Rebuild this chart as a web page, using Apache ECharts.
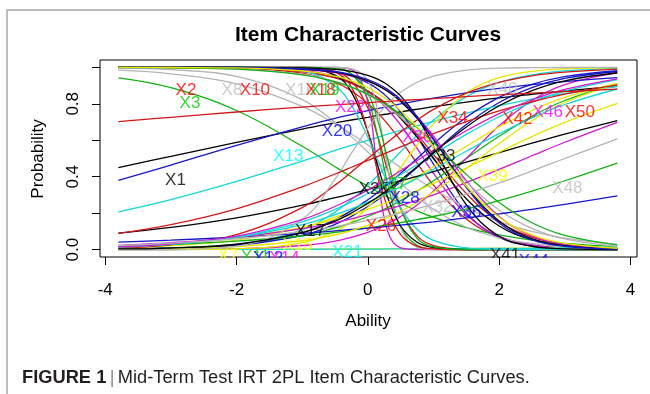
<!DOCTYPE html>
<html>
<head>
<meta charset="utf-8">
<script src="https://cdn.jsdelivr.net/npm/echarts@6/dist/echarts.min.js"></script>
<style>
  html, body { margin: 0; padding: 0; background: #fff; }
  #chart { width: 650px; height: 394px; }
</style>
</head>
<body>
<div id="chart"></div>
<script>
// ability grid (theta) shared by every curve
const theta = [-3.8, -3, -2, -1, -0.5, -0.25, 0, 0.15, 0.3, 0.5, 0.75, 1, 1.5, 2, 2.5, 3, 3.8];

// probability of a correct answer
const X1  = [.450,.512,.588,.661,.695,.711,.726,.736,.744,.756,.770,.784,.809,.832,.852,.871,.896];
const X2  = [1,.999,.995,.968,.917,.870,.802,.750,.690,.599,.475,.354,.168,.069,.027,.010,.002];
const X3  = [.942,.888,.763,.567,.455,.400,.348,.318,.289,.254,.213,.178,.121,.081,.053,.035,.017];
const X4  = [1,1,.999,.992,.974,.953,.915,.881,.835,.755,.622,.469,.202,.068,.020,.006,.001];
const X5  = [.002,.006,.027,.109,.206,.274,.354,.407,.463,.537,.628,.711,.839,.917,.959,.980,.994];
const X6  = [1,1,.998,.983,.951,.918,.866,.823,.770,.684,.555,.418,.193,.074,.026,.009,.002];
const X7  = [.002,.002,.003,.003,.004,.004,.004,.005,.005,.005,.006,.006,.007,.008,.009,.010,.012];
const X8  = [.984,.964,.909,.786,.690,.634,.574,.537,.500,.450,.389,.332,.231,.154,.100,.063,.029];
const X9  = [1,1,.997,.978,.945,.915,.870,.834,.791,.721,.617,.500,.279,.130,.055,.022,.005];
const X10 = [1,1,1,.998,.977,.924,.777,.622,.438,.223,.076,.023,.002,0,0,0,0];
const X11 = [.005,.011,.029,.076,.119,.148,.182,.206,.231,.269,.321,.378,.500,.622,.731,.818,.909];
const X12 = [.002,.006,.022,.078,.139,.183,.237,.274,.314,.373,.451,.532,.686,.807,.889,.939,.977];
const X13 = [.207,.274,.374,.486,.544,.572,.600,.616,.633,.654,.679,.704,.749,.790,.826,.856,.896];
const X14 = [0,.001,.005,.023,.047,.068,.095,.117,.142,.182,.245,.321,.500,.679,.818,.905,.969];
const X15 = [.011,.022,.053,.121,.178,.213,.254,.280,.308,.348,.400,.455,.567,.673,.763,.835,.912];
const X16 = [.996,.987,.950,.823,.698,.620,.535,.483,.430,.364,.287,.221,.123,.065,.034,.017,.006];
const X17 = [.091,.122,.175,.244,.285,.307,.330,.344,.358,.378,.402,.428,.480,.532,.584,.634,.708];
const X18 = [1,.999,.996,.976,.942,.912,.869,.835,.794,.729,.632,.522,.308,.153,.069,.029,.007];
const X19 = [1,1,1,1,.994,.964,.823,.620,.364,.123,.024,.004,0,0,0,0,0];
const X20 = [.380,.464,.572,.674,.720,.741,.762,.773,.784,.799,.816,.831,.860,.884,.905,.922,.943];
const X21 = [.001,.001,.002,.002,.003,.003,.003,.003,.004,.004,.004,.005,.006,.007,.008,.010,.014];
const X22 = [1,1,1,1,.999,.988,.808,.411,.103,.010,.001,0,0,0,0,0,0];
const X23 = [0,.001,.005,.039,.100,.154,.231,.289,.354,.450,.574,.690,.858,.943,.978,.992,.998];
const X24 = [1,1,1,1,.999,.992,.926,.763,.455,.121,.014,.002,0,0,0,0,0];
const X25 = [1,1,1,.996,.957,.864,.646,.463,.289,.130,.041,.012,.001,0,0,0,0];
const X26 = [1,1,1,.999,.973,.891,.646,.426,.231,.083,.020,.005,0,0,0,0,0];
const X27 = [1,1,1,1,.992,.964,.858,.711,.500,.231,.063,.015,.001,0,0,0,0];
const X28 = [.003,.008,.027,.093,.165,.214,.274,.314,.358,.419,.500,.581,.726,.835,.907,.949,.981];
const X29 = [1,1,.999,.980,.898,.791,.617,.491,.367,.227,.112,.051,.010,.002,0,0,0];
const X30 = [1,1,.998,.989,.971,.953,.924,.900,.870,.818,.731,.622,.378,.182,.076,.029,.006];
const X31 = [.019,.034,.065,.123,.167,.192,.221,.240,.259,.287,.324,.364,.448,.535,.620,.698,.802];
const X32 = [.999,.998,.991,.962,.922,.891,.849,.818,.782,.726,.646,.556,.372,.218,.117,.059,.018];
const X33 = [1,1,.999,.990,.973,.955,.926,.901,.869,.813,.720,.603,.348,.157,.061,.022,.004];
const X34 = [.010,.027,.083,.231,.354,.426,.500,.545,.589,.646,.711,.769,.858,.917,.953,.973,.990];
const X35 = [.020,.029,.047,.076,.095,.107,.119,.127,.136,.148,.165,.182,.223,.269,.321,.378,.475];
const X36 = [.041,.052,.069,.090,.103,.111,.118,.123,.128,.135,.144,.153,.174,.196,.221,.248,.295];
const X37 = [.014,.029,.069,.153,.221,.262,.308,.337,.368,.411,.466,.522,.632,.729,.808,.869,.932];
const X38 = [.024,.038,.067,.115,.149,.169,.192,.206,.221,.242,.271,.301,.368,.440,.515,.589,.698];
const X39 = [.002,.006,.017,.049,.082,.105,.134,.154,.177,.211,.260,.316,.445,.582,.707,.807,.910];
const X40 = [0,.002,.020,.167,.387,.529,.666,.738,.799,.863,.918,.952,.984,.995,.998,.999,1];
const X41 = [1,1,1,.997,.989,.978,.956,.935,.904,.843,.727,.570,.246,.074,.019,.005,.001];
const X42 = [.089,.137,.224,.345,.415,.452,.490,.512,.534,.564,.601,.636,.702,.761,.811,.853,.904];
const X43 = [.999,.997,.990,.959,.921,.891,.852,.823,.791,.741,.668,.587,.413,.259,.148,.079,.027];
const X44 = [1,1,.999,.992,.977,.960,.933,.910,.879,.823,.729,.608,.341,.147,.054,.019,.003];
const X45 = [.017,.031,.067,.137,.192,.224,.261,.285,.310,.345,.392,.440,.540,.636,.723,.796,.881];
const X46 = [.016,.032,.074,.165,.237,.280,.327,.358,.389,.433,.489,.545,.652,.746,.822,.879,.937];
const X47 = [1,.999,.997,.980,.951,.926,.888,.858,.822,.763,.673,.567,.348,.178,.081,.035,.008];
const X48 = [.023,.036,.060,.100,.127,.143,.161,.173,.185,.202,.225,.250,.305,.366,.432,.500,.608];
const X49 = [.004,.009,.030,.093,.157,.201,.254,.289,.327,.382,.455,.530,.673,.789,.872,.926,.970];
const X50 = [.702,.726,.755,.782,.794,.800,.806,.810,.813,.818,.823,.828,.839,.849,.858,.867,.880];

const itemCurves = [X1,X2,X3,X4,X5,X6,X7,X8,X9,X10,X11,X12,X13,X14,X15,X16,X17,X18,X19,X20,
  X21,X22,X23,X24,X25,X26,X27,X28,X29,X30,X31,X32,X33,X34,X35,X36,X37,X38,X39,X40,
  X41,X42,X43,X44,X45,X46,X47,X48,X49,X50];

// item labels as they sit in the plot (ability, probability)
const labelNames = ['X1','X2','X3','X7','X8','X10','X11','X12','X13','X14','X15','X16','X17','X18','X19','X20','X21','X22',
  'X25','X26','X27','X28','X30','X32','X33','X34','X36','X39','X40','X41','X42','X44','X46','X48','X50'];
const labelTheta = [-2.93,-2.77,-2.71,-2.13,-2.07,-1.72,-1.71,-1.52,-1.21,-1.27,-1.07,-1.03,-0.88,-0.72,-0.66,-0.47,-0.31,-0.27,
  0.09,0.20,0.36,0.56,0.755,1.06,1.105,1.29,1.50,1.90,2.05,2.09,2.28,2.53,2.74,3.04,3.23];
const labelProb = [0.38,0.875,0.80,-0.035,0.875,0.875,-0.04,-0.045,0.51,-0.045,0.024,0.875,0.10,0.875,0.875,0.65,-0.015,0.78,
  0.33,0.128,0.36,0.28,0.617,0.23,0.51,0.72,0.205,0.40,0.88,-0.031,0.715,-0.065,0.755,0.337,0.755];

const xTicks = [-4, -2, 0, 2, 4];
const yTicks = [0, 0.2, 0.4, 0.6, 0.8, 1];
const yTickLabels = [0, 0.4, 0.8];

// R's default palette(), cycled over the items (text uses it as is,
// the thin curves look a little darker in the picture)
const rPalette = ['#000000', '#FF0000', '#00CD00', '#0000FF', '#00FFFF', '#FF00FF', '#FFFF00', '#BEBEBE'];
const linePalette = ['#000000', '#d01818', '#12b012', '#1616c8', '#16d6d6', '#d018d0', '#e6e600', '#b4b4b4'];
const FONT = '"Liberation Sans", Arial, Helvetica, sans-serif';
const colorOf = n => rPalette[(n - 1) % rPalette.length];
const lineColorOf = n => linePalette[(n - 1) % linePalette.length];

const chart = echarts.init(document.getElementById('chart'));

const curveSeries = itemCurves.map((vals, i) => ({
  name: 'X' + (i + 1),
  type: 'line',
  data: theta.map((t, k) => [t, vals[k]]),
  smooth: 0.4,
  symbol: 'none',
  silent: true,
  lineStyle: { width: 1.3, color: lineColorOf(i + 1) },
  z: 2
}));

const labelSeries = {
  type: 'scatter',
  symbolSize: 1,
  clip: false,
  silent: true,
  z: 3,
  itemStyle: { color: 'transparent' },
  label: {
    show: true,
    position: 'inside',
    formatter: p => p.name,
    fontFamily: FONT,
    fontSize: 17
  },
  data: labelNames.map((nm, i) => ({
    name: nm,
    value: [labelTheta[i], labelProb[i]],
    label: { color: colorOf(+nm.slice(1)) }
  }))
};

chart.setOption({
  animation: false,
  backgroundColor: '#fff',
  grid: {
    left: 100, right: 13, top: 60, bottom: 137,
    show: true, borderColor: '#000', borderWidth: 1, backgroundColor: 'transparent'
  },
  xAxis: {
    type: 'value', min: -4.08, max: 4.1, z: 60,
    axisLine: { show: false, onZero: false },
    axisTick: { show: true, inside: false, length: 8, customValues: xTicks, lineStyle: { color: '#000', width: 1 } },
    axisLabel: { customValues: xTicks, margin: 25, fontFamily: FONT, fontSize: 17, color: '#000' },
    splitLine: { show: false }
  },
  yAxis: {
    type: 'value', min: -0.04, max: 1.04, z: 60,
    axisLine: { show: false, onZero: false },
    axisTick: { show: true, inside: false, length: 8, customValues: yTicks, lineStyle: { color: '#000', width: 1 } },
    axisLabel: {
      customValues: yTickLabels, rotate: 90, margin: 18,
      formatter: v => v.toFixed(1), fontFamily: FONT, fontSize: 17, color: '#000'
    },
    splitLine: { show: false }
  },
  graphic: [
    { type: 'rect', silent: true, z: -10, shape: { x: 7, y: 10, width: 720, height: 500 },
      style: { fill: 'none', stroke: '#a9a9a9', lineWidth: 1.5 } },
    // R clips text to the plot region: hide label parts under the box
    { type: 'rect', silent: true, z: 50, shape: { x: 101, y: 258, width: 535, height: 20 },
      style: { fill: '#fff' } },
    { type: 'text', silent: true, x: 368, y: 35,
      style: { text: 'Item Characteristic Curves', font: 'bold 21px ' + FONT, fill: '#000',
        textAlign: 'center', textVerticalAlign: 'middle' } },
    { type: 'text', silent: true, x: 368, y: 321,
      style: { text: 'Ability', font: '17px ' + FONT, fill: '#000',
        textAlign: 'center', textVerticalAlign: 'middle' } },
    { type: 'text', silent: true, x: 38, y: 159, rotation: Math.PI / 2,
      style: { text: 'Probability', font: '17px ' + FONT, fill: '#000',
        textAlign: 'center', textVerticalAlign: 'middle' } },
    { type: 'text', silent: true, x: 22, y: 378,
      style: {
        text: '{b|FIGURE 1} {p||} {n|Mid-Term Test IRT 2PL Item Characteristic Curves.}',
        textVerticalAlign: 'middle',
        rich: {
          b: { fontFamily: FONT, fontSize: 18.3, fontWeight: 'bold', fill: '#231f20' },
          p: { fontFamily: FONT, fontSize: 18.3, fill: '#8a8a8a' },
          n: { fontFamily: FONT, fontSize: 18.3, fill: '#231f20' }
        }
      } }
  ],
  series: curveSeries.concat([labelSeries])
});
</script>
</body>
</html>
